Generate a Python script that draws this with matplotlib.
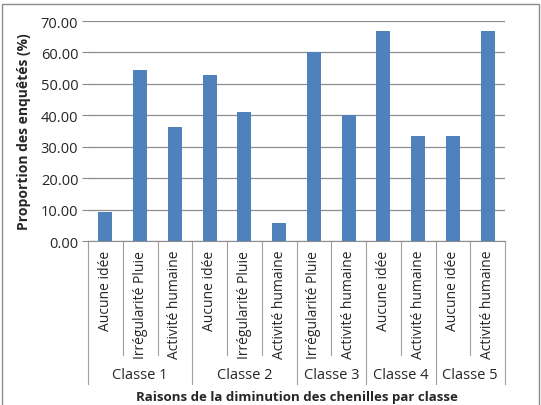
import matplotlib
matplotlib.use('Agg')
import matplotlib.pyplot as plt
from matplotlib.patches import Rectangle
import matplotlib.transforms as mtransforms

plt.rcParams['font.family'] = ['Open Sans', 'DejaVu Sans']

# data
categories = ['Aucune idée', 'Irrégularité Pluie', 'Activité humaine',
              'Aucune idée', 'Irrégularité Pluie', 'Activité humaine',
              'Irrégularité Pluie', 'Activité humaine',
              'Aucune idée', 'Activité humaine',
              'Aucune idée', 'Activité humaine']
values = [9.09, 54.55, 36.36,
          52.94, 41.18, 5.88,
          60.00, 40.00,
          66.67, 33.33,
          33.33, 66.67]
groups = ['Classe 1', 'Classe 2', 'Classe 3', 'Classe 4', 'Classe 5']
group_sizes = [3, 3, 2, 2, 2]
yticks = [0, 10, 20, 30, 40, 50, 60, 70]

bar_color = '#4F81BD'
grid_color = '#8C8C8C'
text_color = '#262626'

fig = plt.figure(figsize=(5.41, 4.06), dpi=100)
fig.patches.append(Rectangle((2 / 541, -0.01), 537 / 541, 1 - 5 / 406 + 0.01,
                             transform=fig.transFigure, fill=False,
                             edgecolor='#8C8C8C', linewidth=1.0))

ax = fig.add_axes([88 / 541, 1 - 242 / 406, 417 / 541, 220 / 406])
x = list(range(len(values)))
ax.bar(x, values, width=0.4, color=bar_color, zorder=3)
ax.set_xlim(-0.5, len(values) - 0.5)
ax.set_ylim(0, 70)
ax.set_yticks(yticks)
ax.set_yticklabels(['%.2f' % v for v in yticks], fontsize=10.5, color=text_color)
ax.yaxis.grid(True, color=grid_color, linewidth=0.9, zorder=0)
ax.tick_params(axis='y', length=4, color=grid_color, pad=3)
ax.set_xticks([])
for s in ['top', 'right', 'left']:
    ax.spines[s].set_visible(False)
ax.spines['bottom'].set_color(grid_color)

ax.set_ylabel('Proportion des enquêtés (%)', fontsize=10, fontweight='bold',
              color=text_color, labelpad=7)

trans = mtransforms.blended_transform_factory(ax.transData, ax.transAxes)

# category labels
for xi, lab in zip(x, categories):
    ax.text(xi, -0.04, lab, rotation=90, ha='center', va='top', fontsize=10,
            color=text_color, transform=trans)

# separators
boundaries = [0]
for n in group_sizes:
    boundaries.append(boundaries[-1] + n)
for b in range(len(values) + 1):
    low = -0.65 if b in boundaries else -0.518
    ax.plot([b - 0.5, b - 0.5], [0, low], color='#A0A0A0', linewidth=0.8,
            transform=trans, clip_on=False)

# group labels
for i, g in enumerate(groups):
    mid = (boundaries[i] + boundaries[i + 1]) / 2 - 0.5
    ax.text(mid, -0.609, g, ha='center', va='center', fontsize=10.5,
            color=text_color, transform=trans)

ax.text(0.5, -0.708, 'Raisons de la diminution des chenilles par classe',
        ha='center', va='center', fontsize=9.5, fontweight='bold',
        color=text_color, transform=ax.transAxes)

fig.savefig('out.png', dpi=100)
